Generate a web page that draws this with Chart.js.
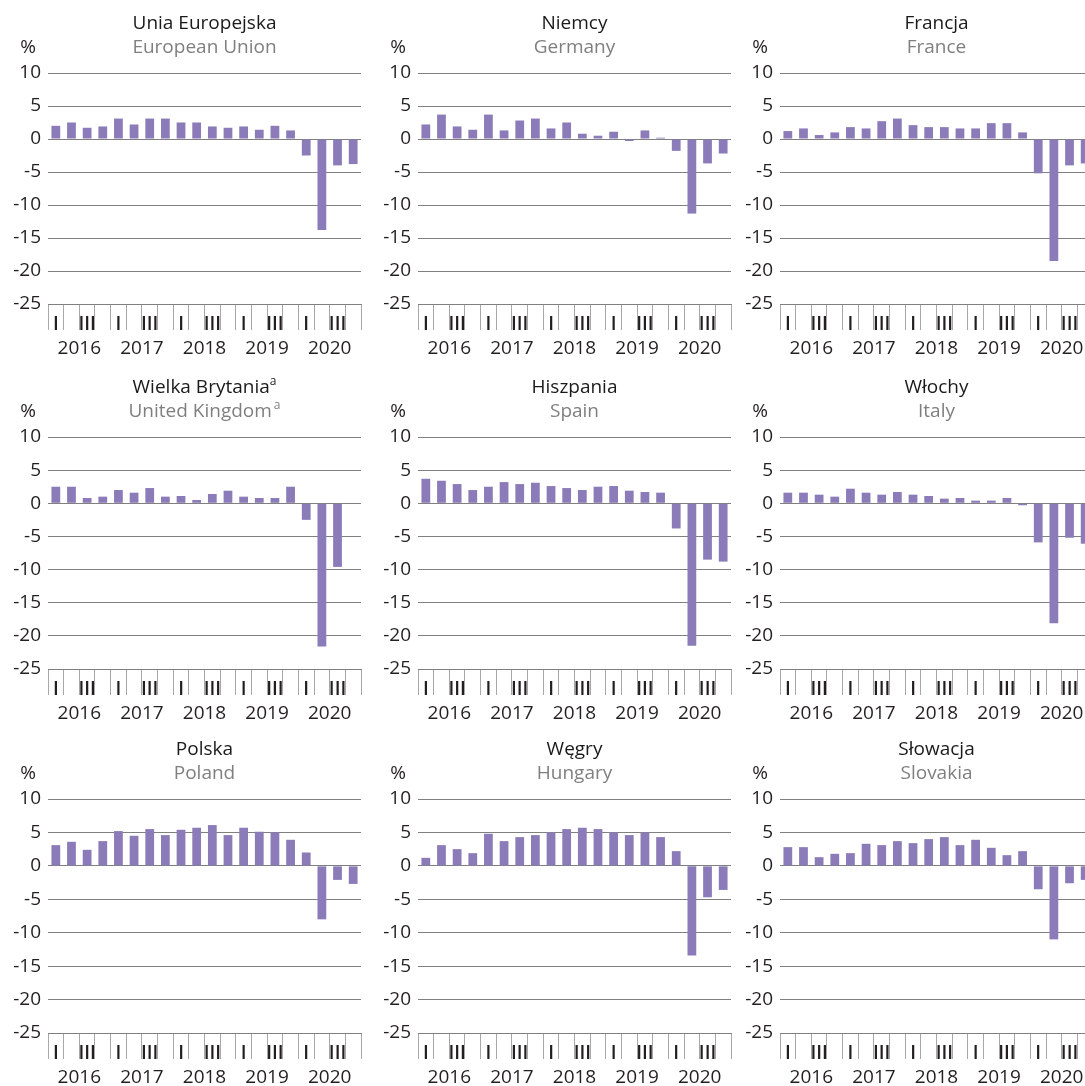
<!DOCTYPE html>
<html lang="pl">
<head>
<meta charset="UTF-8">
<title>PKB – zmiana r/r</title>
<script src="https://cdn.jsdelivr.net/npm/chart.js"></script>
<style>
  body {
    margin: 0;
    width: 1085px;
    height: 1086px;
    overflow: hidden;
    position: relative;
    background: #fff;
  }
  canvas {
    position: absolute;
  }
</style>
</head>
<body>
<script>
// quarters 2016 I – 2020 IV, only I and III are labelled
const quarterLabels = ['I', '', 'III', '', 'I', '', 'III', '', 'I', '', 'III', '',
                       'I', '', 'III', '', 'I', '', 'III', ''];
const yearLabels = ['2016', '2017', '2018', '2019', '2020'];
const yMin = -25, yMax = 10, yStep = 5;

const euValues = [2.0, 2.5, 1.7, 1.9, 3.1, 2.2, 3.1, 3.1, 2.5, 2.5, 1.9, 1.7, 1.9, 1.4, 2.0, 1.3, -2.5, -13.8, -4.0, -3.8];
const deValues = [2.2, 3.7, 1.9, 1.4, 3.7, 1.3, 2.8, 3.1, 1.6, 2.5, 0.8, 0.5, 1.1, -0.3, 1.3, 0.2, -1.8, -11.3, -3.7, -2.2];
const frValues = [1.2, 1.6, 0.6, 1.0, 1.8, 1.6, 2.7, 3.1, 2.1, 1.8, 1.8, 1.6, 1.6, 2.4, 2.4, 1.0, -5.2, -18.5, -4.0, -3.7];
const ukValues = [2.5, 2.5, 0.8, 1.0, 2.0, 1.6, 2.3, 1.0, 1.1, 0.5, 1.4, 1.9, 1.0, 0.8, 0.8, 2.5, -2.5, -21.6, -9.6, null];
const esValues = [3.7, 3.4, 2.9, 2.0, 2.5, 3.2, 2.9, 3.1, 2.6, 2.3, 2.0, 2.5, 2.6, 1.9, 1.7, 1.6, -3.8, -21.5, -8.5, -8.8];
const itValues = [1.6, 1.6, 1.3, 1.0, 2.2, 1.6, 1.3, 1.7, 1.3, 1.1, 0.7, 0.8, 0.4, 0.4, 0.8, -0.3, -5.9, -18.1, -5.2, -6.1];
const plValues = [3.1, 3.6, 2.4, 3.7, 5.2, 4.5, 5.5, 4.6, 5.4, 5.7, 6.1, 4.6, 5.7, 5.1, 5.0, 3.9, 2.0, -8.0, -2.1, -2.7];
const huValues = [1.2, 3.1, 2.5, 1.9, 4.8, 3.7, 4.3, 4.6, 5.0, 5.5, 5.7, 5.5, 5.0, 4.6, 5.0, 4.3, 2.2, -13.4, -4.7, -3.6];
const skValues = [2.8, 2.8, 1.3, 1.8, 1.9, 3.3, 3.1, 3.7, 3.4, 4.0, 4.3, 3.1, 3.9, 2.7, 1.6, 2.2, -3.5, -11.0, -2.6, -2.1];

const panels = [
  { title: 'Unia Europejska', subtitle: 'European Union', values: euValues },
  { title: 'Niemcy', subtitle: 'Germany', values: deValues },
  { title: 'Francja', subtitle: 'France', values: frValues },
  { title: 'Wielka Brytania', subtitle: 'United Kingdom', note: 'a', values: ukValues },
  { title: 'Hiszpania', subtitle: 'Spain', values: esValues },
  { title: 'Włochy', subtitle: 'Italy', values: itValues },
  { title: 'Polska', subtitle: 'Poland', values: plValues },
  { title: 'Węgry', subtitle: 'Hungary', values: huValues },
  { title: 'Słowacja', subtitle: 'Slovakia', values: skValues }
];

// page layout: left edge of each plot column, top edge and height of each plot row
const colLeft = [48, 418, 780];
const rowTop = [73, 437, 799];
const rowPlotH = [231, 232, 234];
const PLOT_W = 313;
const Y_AXIS_W = 48;
const X_AXIS_H = 56;
const PAD_TOP = 73;

const FONT = '"Open Sans", "Noto Sans", sans-serif';
const FONT_SIZE = 19;
const TEXT = '#231f20';
const BAR = '#8b7bb9';
const GRID = '#808080';
const TICK = '#a8a8a8';

Chart.defaults.font.family = FONT;
Chart.defaults.font.size = FONT_SIZE;
Chart.defaults.color = TEXT;

function drawTitleLine(ctx, text, note, cx, y, color, gap) {
  ctx.font = FONT_SIZE + 'px ' + FONT;
  const w = ctx.measureText(text).width;
  let ws = 0;
  if (note) {
    ctx.font = '12px ' + FONT;
    ws = ctx.measureText(note).width + gap;
  }
  const x0 = cx - (w + ws) / 2;
  ctx.fillStyle = color;
  ctx.textAlign = 'left';
  ctx.textBaseline = 'alphabetic';
  ctx.font = FONT_SIZE + 'px ' + FONT;
  ctx.fillText(text, x0, y);
  if (note) {
    ctx.font = '12px ' + FONT;
    ctx.fillText(note, x0 + w + gap, y - 8);
  }
}

// titles, unit label and the two-level quarter / year axis
const panelText = {
  id: 'panelText',
  afterDraw(chart, args, opts) {
    const { ctx, chartArea: a, scales: { x } } = chart;
    const cx = (a.left + a.right) / 2;
    ctx.save();
    drawTitleLine(ctx, opts.title, opts.note, cx, a.top - 44, '#1a1a1a', 0);
    drawTitleLine(ctx, opts.subtitle, opts.note, cx, a.top - 20, '#7f7f7f', 2);

    ctx.fillStyle = TEXT;
    ctx.textAlign = 'center';
    ctx.textBaseline = 'alphabetic';
    ctx.font = FONT_SIZE + 'px ' + FONT;
    ctx.fillText('%', a.left - 20, a.top - 20);

    ctx.font = '600 ' + FONT_SIZE + 'px ' + FONT;
    quarterLabels.forEach((q, i) => {
      if (q) ctx.fillText(q, x.getPixelForValue(i), a.bottom + 26);
    });
    ctx.font = FONT_SIZE + 'px ' + FONT;
    yearLabels.forEach((yr, k) => {
      const px = (x.getPixelForValue(4 * k + 1) + x.getPixelForValue(4 * k + 2)) / 2;
      ctx.fillText(yr, px, a.bottom + 50);
    });
    ctx.restore();
  }
};

panels.forEach((p, idx) => {
  const col = idx % 3, row = Math.floor(idx / 3);
  const canvas = document.createElement('canvas');
  canvas.width = Y_AXIS_W + PLOT_W + 2;
  canvas.height = PAD_TOP + rowPlotH[row] + X_AXIS_H;
  canvas.style.left = (colLeft[col] - Y_AXIS_W) + 'px';
  canvas.style.top = (rowTop[row] - PAD_TOP) + 'px';
  document.body.appendChild(canvas);

  new Chart(canvas, {
    type: 'bar',
    data: {
      labels: quarterLabels.map((q, i) => yearLabels[Math.floor(i / 4)] + ' ' + (i % 4 + 1)),
      datasets: [{
        data: p.values,
        backgroundColor: BAR,
        borderWidth: 0,
        barPercentage: 0.56,
        categoryPercentage: 1.0
      }]
    },
    options: {
      responsive: false,
      animation: false,
      layout: { padding: { top: PAD_TOP, right: 2, bottom: 0, left: 0 } },
      plugins: {
        legend: { display: false },
        tooltip: { enabled: false },
        panelText: { title: p.title, subtitle: p.subtitle, note: p.note }
      },
      scales: {
        x: {
          offset: true,
          grid: {
            offset: true,
            drawOnChartArea: false,
            tickLength: 26,
            color: TICK,
            lineWidth: 1
          },
          border: { display: true, color: GRID, width: 1 },
          ticks: { display: false },
          afterFit(scale) { scale.height = X_AXIS_H; }
        },
        y: {
          min: yMin,
          max: yMax,
          grid: { color: GRID, lineWidth: 1, drawTicks: false },
          border: { display: false },
          ticks: { stepSize: yStep, padding: 7, color: TEXT },
          afterFit(scale) { scale.width = Y_AXIS_W; }
        }
      }
    },
    plugins: [panelText]
  });
});
</script>
</body>
</html>
